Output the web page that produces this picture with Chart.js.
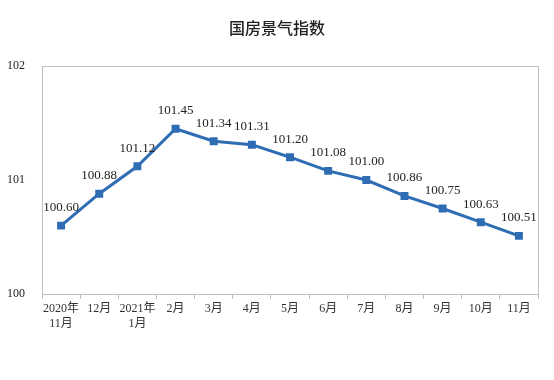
<!DOCTYPE html>
<html>
<head>
<meta charset="utf-8">
<script src="https://cdn.jsdelivr.net/npm/chart.js@4/dist/chart.umd.min.js"></script>
<style>
  html, body { margin: 0; padding: 0; background: #fff; }
  #wrap { width: 554px; height: 380px; }
</style>
</head>
<body>
<div id="wrap"><canvas id="c" width="554" height="380"></canvas></div>
<script>
const title = '国房景气指数';
const months = [
  ['2020年', '11月'], '12月', ['2021年', '1月'], '2月', '3月', '4月',
  '5月', '6月', '7月', '8月', '9月', '10月', '11月'
];
const index = [100.60, 100.88, 101.12, 101.45, 101.34, 101.31, 101.20,
  101.08, 101.00, 100.86, 100.75, 100.63, 100.51];
const yTicks = [100, 101, 102];

const serif = '"Times New Roman", "Liberation Serif", "Noto Sans CJK SC", serif';

// frame around plot area, title, value labels above points
const extras = {
  id: 'extras',
  afterDraw(chart) {
    const ctx = chart.ctx;
    const a = chart.chartArea;
    ctx.save();
    ctx.strokeStyle = '#bfbfbf';
    ctx.lineWidth = 1;
    ctx.strokeRect(Math.round(a.left) + 0.5, Math.round(a.top) + 0.5,
      Math.round(a.right - a.left), Math.round(a.bottom - a.top));

    ctx.fillStyle = '#222';
    ctx.font = '500 16px "Noto Sans CJK SC", sans-serif';
    ctx.textAlign = 'center';
    ctx.textBaseline = 'middle';
    ctx.fillText(title, 277, 28);

    ctx.font = '13px ' + serif;
    chart.getDatasetMeta(0).data.forEach((pt, i) => {
      ctx.fillText(index[i].toFixed(2), pt.x, pt.y - 18);
    });
    ctx.restore();
  }
};

new Chart(document.getElementById('c'), {
  type: 'line',
  data: {
    labels: months,
    datasets: [{
      data: index,
      borderColor: '#2e6db4',
      backgroundColor: '#2e6db4',
      borderWidth: 3,
      pointStyle: 'rect',
      pointRadius: 3.5,
      tension: 0
    }]
  },
  options: {
    responsive: false,
    animation: false,
    layout: { padding: { top: 66, right: 16, bottom: 0, left: 0 } },
    plugins: {
      legend: { display: false },
      tooltip: { enabled: false },
      title: { display: false }
    },
    scales: {
      x: {
        offset: true,
        border: { display: false },
        grid: { offset: true, drawOnChartArea: false, drawTicks: true, tickLength: 5, color: '#bfbfbf' },
        ticks: { color: '#333', font: { family: serif, size: 12 }, padding: 3, maxRotation: 0, autoSkip: false },
        afterFit(scale) { scale.height = 86; }
      },
      y: {
        min: 100,
        max: 102,
        border: { display: false },
        grid: { display: false },
        afterBuildTicks(scale) { scale.ticks = yTicks.map(v => ({ value: v })); },
        ticks: { color: '#222', font: { family: serif, size: 12 }, padding: 9 },
        afterFit(scale) { scale.width = 42; }
      }
    }
  },
  plugins: [extras]
});
</script>
</body>
</html>
